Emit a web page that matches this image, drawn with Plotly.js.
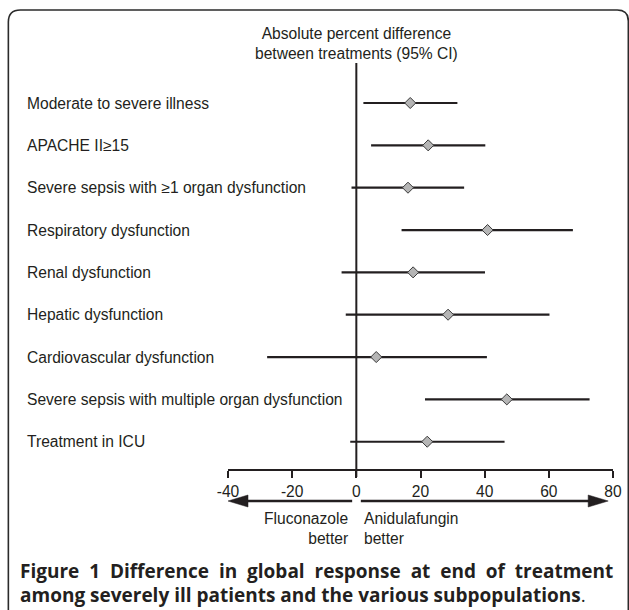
<!DOCTYPE html>
<html>
<head>
<meta charset="utf-8">
<script src="https://cdn.plot.ly/plotly-3.0.1.min.js"></script>
<style>html,body{margin:0;padding:0;background:#fff;}#chart{width:629px;height:610px;}</style>
</head>
<body>
<div id="chart"></div>
<script>
// ---- data ----
var categories = [
  "Moderate to severe illness",
  "APACHE II\u226515",
  "Severe sepsis with \u22651 organ dysfunction",
  "Respiratory dysfunction",
  "Renal dysfunction",
  "Hepatic dysfunction",
  "Cardiovascular dysfunction",
  "Severe sepsis with multiple organ dysfunction",
  "Treatment in ICU"
];
var estimate = [16.8, 22.4, 16.1, 40.9, 17.7, 28.6, 6.2, 46.9, 22.1];
var lowerCI  = [2.2, 4.6, -1.5, 14.1, -4.6, -3.3, -27.8, 21.4, -1.9];
var upperCI  = [31.5, 40.2, 33.6, 67.5, 40.1, 60.2, 40.7, 72.7, 46.2];
var tickValues = [-40, -20, 0, 20, 40, 60, 80];
var tickLabels = ["-40", "-20", "0", "20", "40", "60", "80"];
var axisTitle = "Absolute percent difference<br>between treatments (95% CI)";
var leftLabel = "Fluconazole<br>better";
var rightLabel = "Anidulafungin<br>better";
var captionWords1 = ["Figure", "1", "Difference", "in", "global", "response", "at", "end", "of", "treatment"];
var captionLine2 = "<b>among severely ill patients and the various subpopulations</b>.";

// ---- layout geometry ----
var W = 629, H = 610;
var L = 228.3, R = 16.3, T = 63, B = 141;
var PW = W - L - R, PH = H - T - B;
function px2x(px) { return (px - L) / PW; }
function py2y(py) { return (H - B - py) / PH; }
var ink = "#231f20";
var chartFont = "Liberation Sans, Arial, sans-serif";
var capFont = "Open Sans, sans-serif";
var fs = 15.6;

var idx = categories.map(function (c, i) { return i; });

var trace = {
  type: "scatter",
  mode: "markers",
  x: estimate,
  y: idx,
  marker: { symbol: "diamond", size: 8.5, color: "#b5b5b5", line: { color: "#3a3a3a", width: 1 } },
  error_x: {
    type: "data", symmetric: false,
    array: upperCI.map(function (u, i) { return u - estimate[i]; }),
    arrayminus: lowerCI.map(function (l, i) { return estimate[i] - l; }),
    color: ink, thickness: 2.2, width: 0
  },
  hoverinfo: "skip",
  cliponaxis: false
};

var annotations = categories.map(function (c, i) {
  return { text: c, x: px2x(26), xref: "paper", y: i, yref: "y", xanchor: "left", yanchor: "middle",
           showarrow: false, font: { family: chartFont, size: fs, color: ink } };
});
annotations.push({ text: axisTitle, x: 0, xref: "x", y: py2y(43), yref: "paper", xanchor: "center", yanchor: "middle",
  showarrow: false, align: "center", font: { family: chartFont, size: fs, color: ink } });
annotations.push({ text: leftLabel, x: px2x(350), xref: "paper", y: py2y(528), yref: "paper", xanchor: "right", yanchor: "middle",
  showarrow: false, align: "right", font: { family: chartFont, size: fs, color: ink } });
annotations.push({ text: rightLabel, x: px2x(362), xref: "paper", y: py2y(528), yref: "paper", xanchor: "left", yanchor: "middle",
  showarrow: false, align: "left", font: { family: chartFont, size: fs, color: ink } });
annotations.push({ text: "<b>" + captionWords1.join(" \u00A0") + "</b>", x: px2x(19), xref: "paper", y: py2y(571), yref: "paper", xanchor: "left", yanchor: "middle",
  showarrow: false, align: "left", font: { family: capFont, size: 19, color: ink } });
annotations.push({ text: captionLine2, x: px2x(19), xref: "paper", y: py2y(595), yref: "paper", xanchor: "left", yanchor: "middle",
  showarrow: false, align: "left", font: { family: capFont, size: 19, color: ink } });

var arrowY = py2y(501);
var headH = 6 / PH;
var unit = PW / 120;
var shapes = [
  // frame
  { type: "path", xref: "paper", yref: "paper", layer: "below",
    path: "M" + px2x(9) + "," + py2y(640) +
          " L" + px2x(9) + "," + py2y(22) +
          " Q" + px2x(9) + "," + py2y(10) + " " + px2x(21) + "," + py2y(10) +
          " L" + px2x(617) + "," + py2y(10) +
          " Q" + px2x(628) + "," + py2y(10) + " " + px2x(628) + "," + py2y(21) +
          " L" + px2x(628) + "," + py2y(640),
    line: { color: "#2b2b2b", width: 1.6 } },
  // zero line
  { type: "line", xref: "x", yref: "paper", x0: 0, x1: 0, y0: py2y(477), y1: 1, line: { color: ink, width: 2 } },
  // left arrow
  { type: "line", xref: "x", yref: "paper", x0: -1.3, x1: -36, y0: arrowY, y1: arrowY, line: { color: ink, width: 2.4 } },
  { type: "path", xref: "x", yref: "paper", fillcolor: ink, line: { color: ink, width: 0.5 },
    path: "M-40," + arrowY + " L" + (-40 + 20 / unit) + "," + (arrowY + headH) + " L" + (-40 + 20 / unit) + "," + (arrowY - headH) + " Z" },
  // right arrow
  { type: "line", xref: "x", yref: "paper", x0: 1.4, x1: 75, y0: arrowY, y1: arrowY, line: { color: ink, width: 2.4 } },
  { type: "path", xref: "x", yref: "paper", fillcolor: ink, line: { color: ink, width: 0.5 },
    path: "M78.5," + arrowY + " L" + (78.5 - 20 / unit) + "," + (arrowY + headH) + " L" + (78.5 - 20 / unit) + "," + (arrowY - headH) + " Z" }
];

var layout = {
  width: W, height: H,
  margin: { l: L, r: R, t: T, b: B, pad: 0 },
  paper_bgcolor: "#fff", plot_bgcolor: "rgba(0,0,0,0)",
  showlegend: false,
  xaxis: {
    range: [-40, 80], tickmode: "array", tickvals: tickValues, ticktext: tickLabels,
    showgrid: false, zeroline: false, showline: true, linecolor: ink, linewidth: 2,
    ticks: "outside", ticklen: 7, tickwidth: 2, tickcolor: ink,
    tickfont: { family: chartFont, size: fs, color: ink }, fixedrange: true
  },
  yaxis: {
    range: [8.644, -0.945], showgrid: false, zeroline: false, showline: false,
    showticklabels: false, ticks: "", fixedrange: true
  },
  annotations: annotations,
  shapes: shapes
};

Plotly.newPlot("chart", [trace], layout, { staticPlot: true, displayModeBar: false });
</script>
</body>
</html>
